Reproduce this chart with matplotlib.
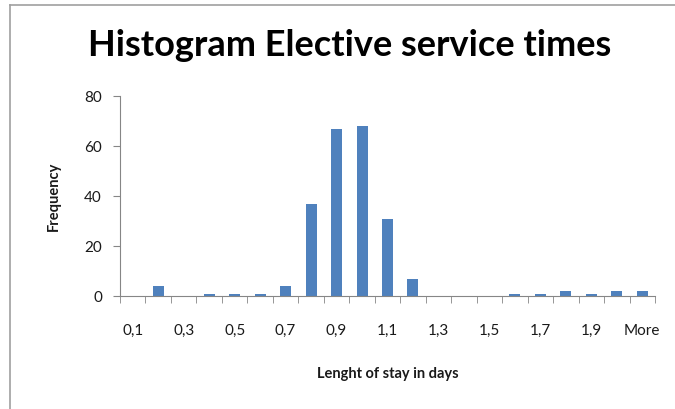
import matplotlib.pyplot as plt
from matplotlib.lines import Line2D

# histogram bins (upper bounds) and counts
bins = ['0,1', '0,2', '0,3', '0,4', '0,5', '0,6', '0,7', '0,8', '0,9', '1',
        '1,1', '1,2', '1,3', '1,4', '1,5', '1,6', '1,7', '1,8', '1,9', '2', 'More']
counts = [0, 4, 0, 1, 1, 1, 4, 37, 67, 68, 31, 7, 0, 0, 0, 1, 1, 2, 1, 2, 2]
yticks = [0, 20, 40, 60, 80]

plt.rcParams['font.family'] = ['Lato', 'DejaVu Sans']
txt = '#1a1a1a'

fig = plt.figure(figsize=(6.75, 4.09), dpi=100)
ax = fig.add_axes([120 / 675, 1 - 296 / 409, 535 / 675, 200 / 409])

x = list(range(len(bins)))
ax.bar(x, counts, width=0.43, color='#4F81BD')

ax.set_xlim(-0.5, len(bins) - 0.5)
ax.set_ylim(0, 80)
ax.set_yticks(yticks)
ax.set_yticklabels([str(v) for v in yticks], fontsize=11, color=txt)

# labels every other bin, ticks at bin boundaries (Excel style)
ax.set_xticks(x[::2])
ax.set_xticklabels(bins[::2], fontsize=11, color=txt)
ax.set_xticks([i - 0.5 for i in range(len(bins) + 1)], minor=True)
ax.tick_params(axis='x', which='major', length=0, pad=20)
ax.tick_params(axis='x', which='minor', length=5, color='#868686')
ax.tick_params(axis='y', length=5, color='#868686', pad=8)

for side in ['top', 'right']:
    ax.spines[side].set_visible(False)
for side in ['left', 'bottom']:
    ax.spines[side].set_color('#868686')

ax.set_ylabel('Frequency', fontsize=10.5, fontweight='bold', color=txt, labelpad=17)
ax.set_xlabel('Lenght of stay in days', fontsize=10.5, fontweight='bold', color=txt, labelpad=21)

fig.text(350 / 675, 1 - 45 / 409, 'Histogram Elective service times',
         fontsize=26, fontweight='bold', ha='center', va='center', color='black')

# chart frame (only top and left edges are in view)
fig.lines.append(Line2D([10 / 675, 1], [1 - 5 / 409, 1 - 5 / 409],
                        transform=fig.transFigure, color='#A0A0A0', lw=1.2))
fig.lines.append(Line2D([10 / 675, 10 / 675], [0, 1 - 5 / 409],
                        transform=fig.transFigure, color='#A0A0A0', lw=1.2))

fig.savefig('out.png', dpi=100)
